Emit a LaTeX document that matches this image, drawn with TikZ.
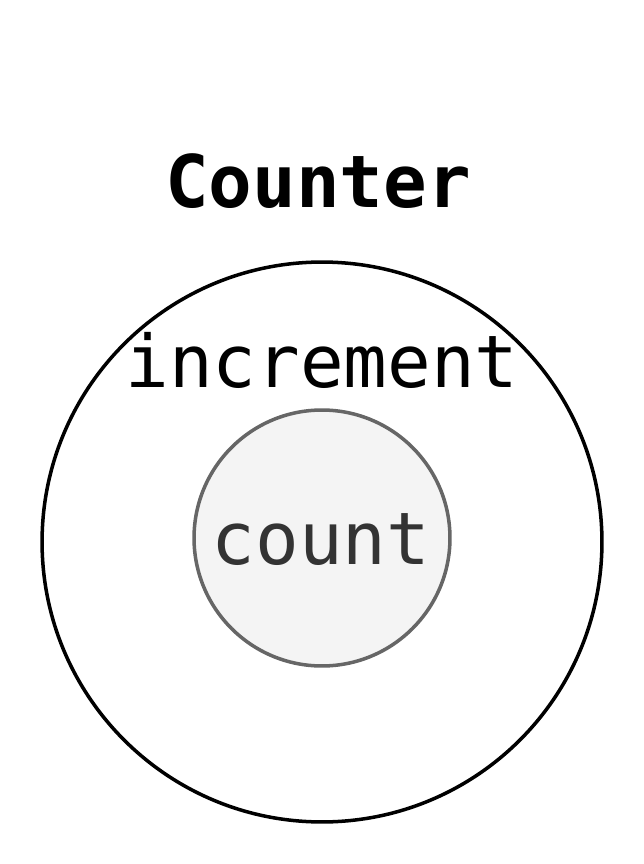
\documentclass[tikz,border=0pt]{standalone}
\usepackage{fontspec}
\setmonofont{DejaVu Sans Mono}
\usepackage{tikz}
\usetikzlibrary{positioning}
\definecolor{innerfill}{HTML}{F4F4F4}
\definecolor{innerline}{HTML}{666666}
\definecolor{innertext}{HTML}{333333}
\tikzstyle{outer} = [draw, circle, line width=2pt, minimum size=11.2cm, inner sep=0pt]
\tikzstyle{inner} = [draw=innerline, fill=innerfill, circle, line width=2pt,
    minimum size=5.12cm, inner sep=0pt]
\tikzstyle{word} = [font=\ttfamily\fontsize{41.3}{42}\selectfont, inner sep=0pt, anchor=base]

\begin{document}
\begin{tikzpicture}[x=0.02cm, y=-0.02cm]
        \useasboundingbox (0, 0) rectangle (644, 864);

        \node[outer, name=counter] at (322, 542) {};
        \node[inner, name=count] at (322, 538) {};

        \node[word, font=\ttfamily\bfseries\fontsize{41.3}{42}\selectfont, name=title] at (318, 208) {Counter};
        \node[word, name=increment] at (322, 387) {increment};
        \node[word, text=innertext, name=count_label] at (321, 564) {count};
    \end{tikzpicture}
\end{document}
